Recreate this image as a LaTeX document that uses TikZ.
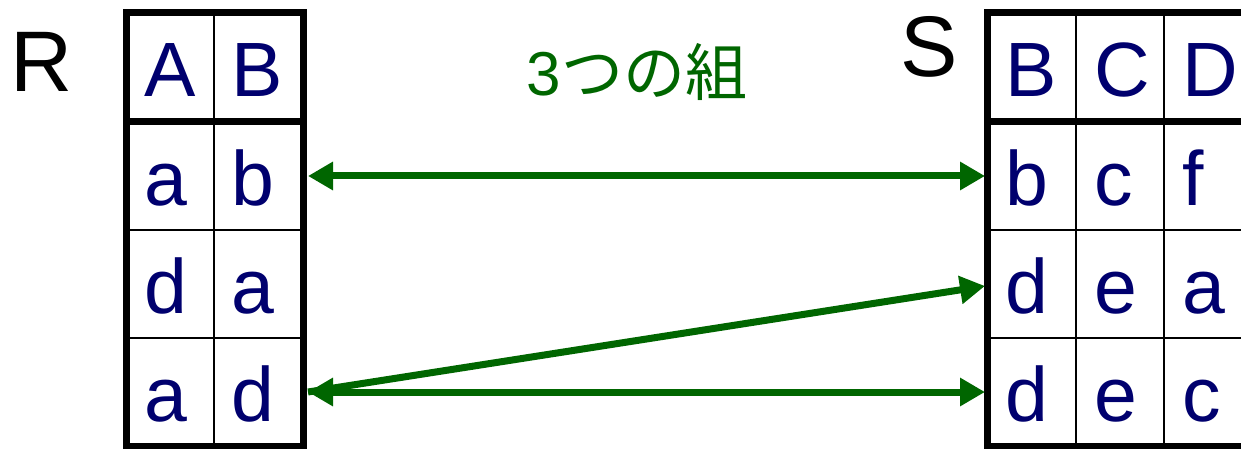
\documentclass[tikz,border=0pt]{standalone}
\usepackage{fontspec}
\setmainfont{Liberation Sans}
\newfontfamily\jpfont{Noto Sans CJK JP}
\usetikzlibrary{arrows.meta}
\definecolor{navy}{RGB}{0,0,110}
\definecolor{dgreen}{RGB}{0,102,0}
\begin{document}
\begin{tikzpicture}[x=1pt,y=-1pt,
  cell/.style={draw=black,line width=2pt,inner ysep=0pt,inner xsep=18pt,outer sep=0pt,
    text height=58pt,text depth=0pt,text=navy,align=left,
    font=\fontsize{77}{80}\selectfont,anchor=center},
  c1/.style={cell,text width=51pt},
  c2/.style={cell,text width=53.5pt},
  s1/.style={cell,text width=53pt},
  s2/.style={cell,text width=52pt},
  hrow/.style={minimum height=109pt},
  brow/.style={minimum height=108pt},
  border/.style={draw=black,line width=7pt},
  tiphead/.tip={Triangle[length=25pt,width=27pt]},
  link/.style={draw=dgreen,line width=7pt},
  tlabel/.style={font=\fontsize{86}{90}\selectfont,anchor=base,text=black}
]
\useasboundingbox (0,0) rectangle (1241,449);
\clip (0,0) rectangle (1241,449);
% R table
\node[c1,hrow] (R11) at (170,67.5) {A};
\node[c2,hrow] (R12) at (258.25,67.5) {B};
\node[c1,brow] (R21) at (170,176) {a};
\node[c2,brow] (R22) at (258.25,176) {b};
\node[c1,brow] (R31) at (170,284) {d};
\node[c2,brow] (R32) at (258.25,284) {a};
\node[c1,brow] (R41) at (170,392) {a};
\node[c2,brow] (R42) at (258.25,392) {d};
\draw[border] (R11.north west) rectangle (R42.south east);
\draw[border] (R11.south west) -- (R12.south east);
% S table
\node[s1,hrow] (S11) at (1031.5,67.5) {B};
\node[s2,hrow] (S12) at (1120,67.5) {C};
\node[s2,hrow] (S13) at (1208,67.5) {D};
\node[s1,brow] (S21) at (1031.5,176) {b};
\node[s2,brow] (S22) at (1120,176) {c};
\node[s2,brow] (S23) at (1208,176) {f};
\node[s1,brow] (S31) at (1031.5,284) {d};
\node[s2,brow] (S32) at (1120,284) {e};
\node[s2,brow] (S33) at (1208,284) {a};
\node[s1,brow] (S41) at (1031.5,392) {d};
\node[s2,brow] (S42) at (1120,392) {e};
\node[s2,brow] (S43) at (1208,392) {c};
\draw[border] (S11.north west) rectangle (S43.south east);
\draw[border] (S11.south west) -- (S13.south east);
% labels
\node[tlabel] (Rlab) at (41.5,92) {R};
\node[tlabel] (Slab) at (929,77) {S};
\node[anchor=base,text=dgreen,font=\fontsize{62}{62}\selectfont] (title) at (637,96) {3\jpfont つの組};
% connectors
\draw[link,tiphead-tiphead] ([xshift=5pt]R22.east) -- ([xshift=-2pt]S21.west);
\draw[link,-tiphead] ([xshift=5pt]R42.east) -- ([xshift=-2pt,yshift=-2pt]S31.west);
\draw[link,tiphead-tiphead] ([xshift=5pt]R42.east) -- ([xshift=-2pt]S41.west);
\end{tikzpicture}
\end{document}
